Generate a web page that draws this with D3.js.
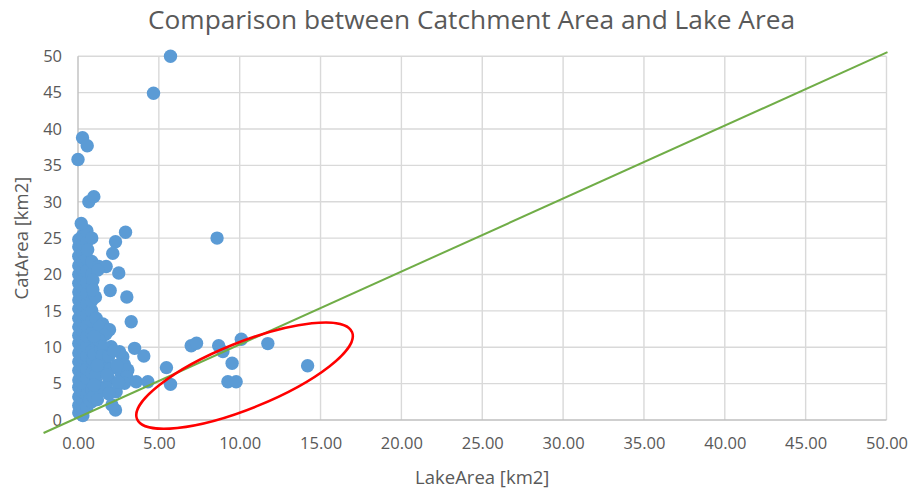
<!DOCTYPE html>
<html>
<head>
<meta charset="utf-8">
<script src="https://cdn.jsdelivr.net/npm/d3@7"></script>
<style>
  html, body { margin: 0; padding: 0; background: #ffffff; }
  svg { display: block; }
  text { font-family: "Open Sans", "Liberation Sans", sans-serif; fill: #595959; }
</style>
</head>
<body>
<svg id="chart" width="913" height="493"></svg>
<script>
// ---- data ----
const chartTitle = "Comparison between Catchment Area and Lake Area";
const xTitle = "LakeArea [km2]";
const yTitle = "CatArea [km2]";
const xTicks = [0, 5, 10, 15, 20, 25, 30, 35, 40, 45, 50];
const yTicks = [0, 5, 10, 15, 20, 25, 30, 35, 40, 45, 50];

// dense column of small lakes (LakeArea, CatArea)
const colX = [
  0.05,0.05,0.05,0.05,0.05,0.05,0.05,0.05,0.05,0.05,0.05,0.05,0.05,0.05,0.05,0.05,0.05,0.05,0.05,0.05,0.05,
  0.3,0.3,0.3,0.3,0.3,0.3,0.3,0.3,0.3,0.3,0.3,0.3,0.3,0.3,0.3,0.3,0.3,0.3,0.3,0.3,0.3,0.3,
  0.55,0.55,0.55,0.55,0.55,0.55,0.55,0.55,0.55,0.55,0.55,0.55,0.55,0.55,0.55,0.55,
  0.85,0.85,0.85,0.85,0.85,0.85,0.85,0.85,0.85,0.85,0.85,0.85,0.85
];
const colY = [
  1.0,2.0,3.2,4.5,5.5,6.8,8.0,9.2,10.5,11.6,12.8,14.0,15.3,16.5,17.6,18.8,20.0,21.2,22.5,23.8,24.8,
  0.6,1.6,2.7,3.8,5.0,6.2,7.4,8.6,9.8,11.0,12.2,13.4,14.6,15.8,17.0,18.2,19.4,20.6,21.8,23.0,24.2,25.4,
  1.8,3.5,5.8,7.0,8.8,10.2,11.5,13.0,14.5,16.0,17.5,19.0,20.5,22.2,24.5,26.0,
  2.5,4.2,6.5,8.0,9.5,12.0,13.6,15.0,16.4,18.3,20.0,21.8,25.0
];
// scattered lakes
const lakeArea = [
  0.28,0.57,0.0,0.67,0.98,4.67,5.72,0.2,
  2.94,2.32,2.15,1.29,1.74,2.52,1.22,1.99,3.02,1.08,0.92,0.92,0.6,
  3.29,1.12,1.53,1.74,1.33,1.95,1.64,3.5,4.07,2.77,2.57,2.05,1.64,1.53,
  2.88,2.67,3.08,3.02,2.88,3.6,4.32,1.95,1.12,2.36,2.32,2.1,0.71,1.74,
  0.92,1.2,1.0,1.4,1.1,1.3,0.95,
  1.3,1.6,1.0,1.5,1.2,1.9,2.2,2.0,1.8,2.4,2.5,1.5,1.0,1.9,1.2,
  8.6,5.47,5.72,7.0,7.33,8.7,8.96,10.1,11.74,9.53,9.27,9.78,14.2
];
const catArea = [
  38.8,37.7,35.8,30.0,30.7,44.9,50.0,27.0,
  25.8,24.5,22.9,21.1,21.1,20.2,20.6,17.8,16.9,16.9,19.2,17.9,23.4,
  13.5,14.0,13.2,11.9,12.8,12.4,11.7,9.85,8.8,8.7,9.38,10.07,7.8,7.3,
  7.55,6.4,6.87,5.95,5.04,5.26,5.26,5.5,5.26,3.89,1.37,2.06,2.75,4.57,
  8.24,10.3,9.0,9.8,6.2,4.0,3.2,
  11.0,10.0,11.5,8.8,7.5,8.8,9.5,7.0,6.2,7.5,5.2,4.2,4.8,3.6,2.8,
  25.0,7.2,4.9,10.2,10.55,10.2,9.4,11.1,10.5,7.8,5.26,5.26,7.46
];
// hand-drawn 1:1 reference line (data coords of its ends)
const refLineX = [-2.13, 50.06];
const refLineY = [-1.79, 50.55];
// highlight ellipse (centre in data units)
const ellipseCenter = [10.3, 6.1];

// ---- layout ----
const svg = d3.select("#chart");
const W = 913, H = 493;
const mLeft = 78, mRight = 886.5, mTop = 56.2, mBottom = 420;

const x = d3.scaleLinear().domain([0, 50]).range([mLeft, mRight]);
const y = d3.scaleLinear().domain([0, 50]).range([mBottom, mTop]);

svg.append("rect").attr("width", W).attr("height", H).attr("fill", "#ffffff");

// gridlines
svg.append("g").selectAll("line").data(xTicks.filter(d => d > 0)).join("line")
  .attr("x1", d => x(d)).attr("x2", d => x(d))
  .attr("y1", y(50)).attr("y2", y(0))
  .attr("stroke", "#d9d9d9").attr("stroke-width", 1.4);
svg.append("g").selectAll("line").data(yTicks.filter(d => d > 0)).join("line")
  .attr("x1", x(0)).attr("x2", x(50))
  .attr("y1", d => y(d)).attr("y2", d => y(d))
  .attr("stroke", "#d9d9d9").attr("stroke-width", 1.4);

// axes lines
svg.append("line").attr("x1", x(0)).attr("x2", x(50)).attr("y1", y(0)).attr("y2", y(0))
  .attr("stroke", "#bfbfbf").attr("stroke-width", 1.4);
svg.append("line").attr("x1", x(0)).attr("x2", x(0)).attr("y1", y(0)).attr("y2", y(50))
  .attr("stroke", "#bfbfbf").attr("stroke-width", 1.4);

// tick labels via d3 axes
const xAxis = d3.axisBottom(x).tickValues(xTicks).tickFormat(d3.format(".2f")).tickSize(0).tickPadding(0);
const gx = svg.append("g").attr("transform", `translate(0,${mBottom + 17})`).call(xAxis);
gx.select(".domain").remove();
gx.selectAll("text").attr("font-size", "16.5px").attr("fill", "#595959")
  .attr("font-family", '"Open Sans", sans-serif').attr("dy", "0.71em");

const yAxis = d3.axisLeft(y).tickValues(yTicks).tickFormat(d3.format("d")).tickSize(0).tickPadding(0);
const gy = svg.append("g").attr("transform", `translate(${mLeft - 16},0)`).call(yAxis);
gy.select(".domain").remove();
gy.selectAll("text").attr("font-size", "16.5px").attr("fill", "#595959")
  .attr("font-family", '"Open Sans", sans-serif');

// points
const pts = colX.map((d, i) => [d, colY[i]]).concat(lakeArea.map((d, i) => [d, catArea[i]]));
svg.append("g").selectAll("circle").data(pts).join("circle")
  .attr("cx", d => x(d[0])).attr("cy", d => y(d[1])).attr("r", 6.7)
  .attr("fill", "#5b9bd5");

// green reference line
svg.append("line")
  .attr("x1", x(refLineX[0])).attr("y1", y(refLineY[0]))
  .attr("x2", x(refLineX[1])).attr("y2", y(refLineY[1]))
  .attr("stroke", "#70ad47").attr("stroke-width", 2);

// red ellipse
svg.append("ellipse")
  .attr("cx", 0).attr("cy", 0).attr("rx", 116).attr("ry", 33)
  .attr("transform", `translate(${x(ellipseCenter[0])},${y(ellipseCenter[1])}) rotate(-22)`)
  .attr("fill", "none").attr("stroke", "#ff0000").attr("stroke-width", 2.5);

// titles
svg.append("text").attr("x", 471.5).attr("y", 29).attr("text-anchor", "middle")
  .attr("font-size", "25px").attr("textLength", 647).attr("lengthAdjust", "spacingAndGlyphs")
  .text(chartTitle);
svg.append("text").attr("x", (mLeft + mRight) / 2).attr("y", 484).attr("text-anchor", "middle")
  .attr("font-size", "18.5px").text(xTitle);
svg.append("text").attr("transform", `translate(28,${(mTop + mBottom) / 2}) rotate(-90)`)
  .attr("text-anchor", "middle").attr("font-size", "18.5px").text(yTitle);
</script>
</body>
</html>
